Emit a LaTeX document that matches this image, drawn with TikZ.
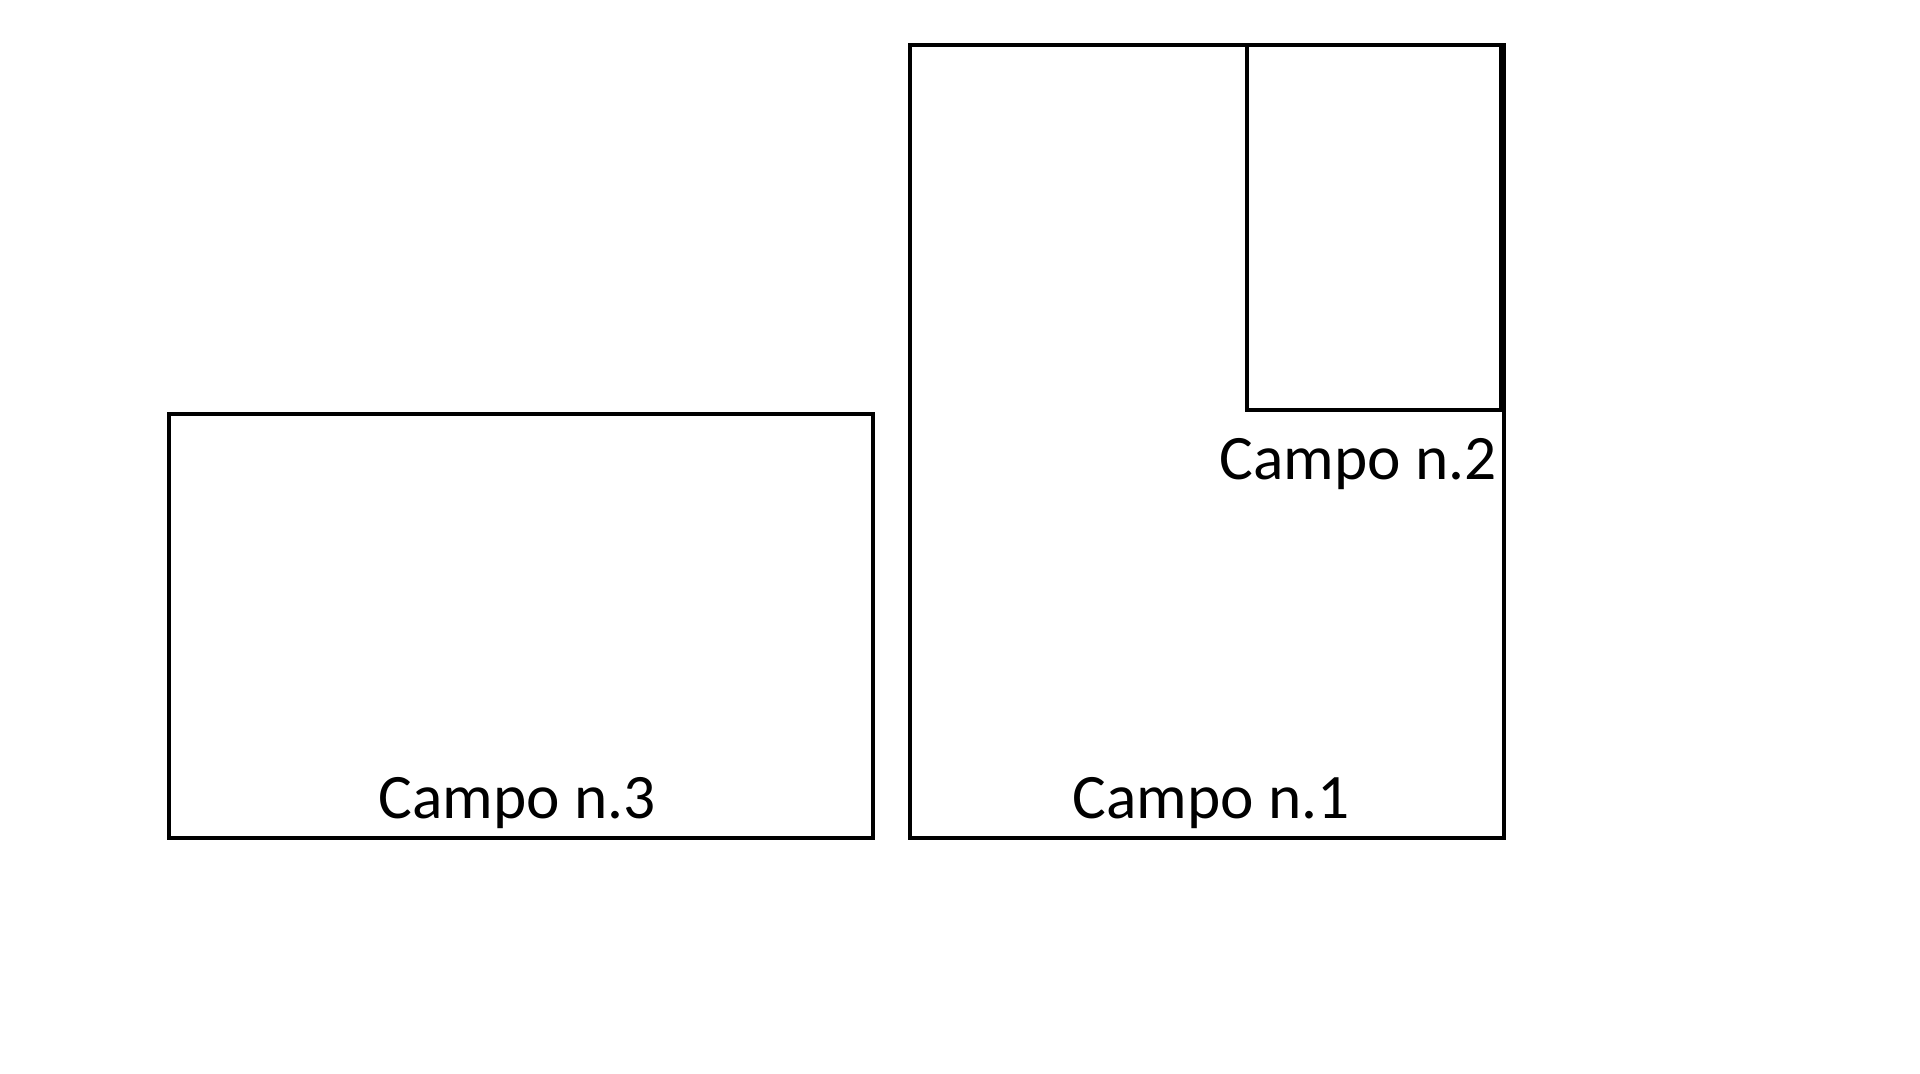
\documentclass[tikz,border=0pt]{standalone}
\usepackage{fontspec}
\setmainfont{Carlito}
\begin{document}
\begin{tikzpicture}[x=0.75pt,y=-0.75pt,
  field/.style={draw=black,line width=3.5pt,rectangle,inner sep=0pt,outer sep=0pt,anchor=north west},
  lbl/.style={font=\fontsize{47.5}{57}\selectfont,inner sep=0pt,anchor=center}]
\useasboundingbox (0,0) rectangle (1920,1074);
\node[field,minimum width=704*0.75pt,minimum height=424*0.75pt] (c3) at (169,414) {};
\node[field,minimum width=594*0.75pt,minimum height=793*0.75pt] (c1) at (910,45) {};
\node[field,minimum width=254*0.75pt,minimum height=365*0.75pt] (c2) at (1247,45) {};
\node[lbl] (t3) at (517,803) {Campo n.3};
\node[lbl] (t1) at (1211,803) {Campo n.1};
\node[lbl] (t2) at (1358,464) {Campo n.2};
\end{tikzpicture}
\end{document}
